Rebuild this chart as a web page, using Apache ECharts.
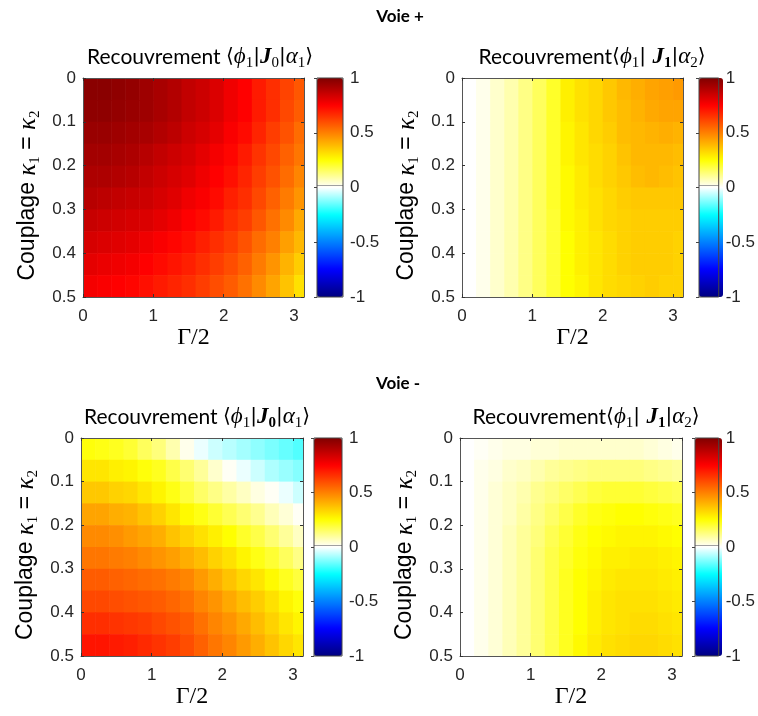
<!DOCTYPE html>
<html><head><meta charset="utf-8">
<script src="https://cdn.jsdelivr.net/npm/echarts@6/dist/echarts.min.js"></script>
<style>html,body{margin:0;padding:0;background:#fff}#c{width:758px;height:716px}</style>
</head><body><div id="c"></div>
<script>
// ---- data ----
const gammaCenters = [0.1,0.3,0.5,0.7,0.9,1.1,1.3,1.5,1.7,1.9,2.1,2.3,2.5,2.7,2.9,3.1];
const kappaCenters = [0.025,0.075,0.125,0.175,0.225,0.275,0.325,0.375,0.425,0.475];

const voiePlusJ0 = [
 [0.98,0.98,0.97,0.96,0.94,0.92,0.90,0.87,0.85,0.82,0.78,0.75,0.70,0.66,0.62,0.58],
 [0.97,0.97,0.96,0.95,0.94,0.92,0.90,0.87,0.85,0.82,0.78,0.75,0.70,0.66,0.61,0.57],
 [0.95,0.95,0.94,0.93,0.92,0.90,0.88,0.85,0.83,0.80,0.76,0.73,0.68,0.63,0.59,0.54],
 [0.93,0.93,0.92,0.91,0.89,0.87,0.85,0.83,0.80,0.77,0.74,0.70,0.65,0.61,0.56,0.52],
 [0.91,0.91,0.90,0.89,0.87,0.85,0.83,0.81,0.78,0.75,0.72,0.68,0.63,0.59,0.54,0.49],
 [0.89,0.88,0.87,0.86,0.85,0.83,0.81,0.78,0.76,0.73,0.69,0.66,0.61,0.56,0.51,0.46],
 [0.86,0.85,0.84,0.83,0.82,0.80,0.78,0.75,0.73,0.70,0.66,0.63,0.58,0.53,0.48,0.42],
 [0.83,0.82,0.81,0.80,0.78,0.76,0.74,0.72,0.69,0.66,0.63,0.59,0.54,0.50,0.44,0.39],
 [0.80,0.79,0.78,0.77,0.75,0.73,0.71,0.69,0.66,0.63,0.60,0.56,0.51,0.46,0.40,0.35],
 [0.77,0.76,0.75,0.74,0.72,0.70,0.68,0.66,0.63,0.60,0.57,0.53,0.48,0.43,0.37,0.31]
];
const voiePlusJ1 = [
 [0.00,0.02,0.05,0.08,0.12,0.16,0.21,0.28,0.31,0.33,0.36,0.39,0.41,0.43,0.44,0.45],
 [0.00,0.02,0.05,0.08,0.12,0.16,0.21,0.28,0.31,0.33,0.36,0.38,0.40,0.42,0.43,0.43],
 [0.00,0.02,0.05,0.08,0.12,0.16,0.21,0.27,0.30,0.33,0.35,0.38,0.39,0.40,0.41,0.40],
 [0.00,0.02,0.05,0.08,0.12,0.16,0.21,0.27,0.30,0.32,0.34,0.37,0.39,0.39,0.39,0.38],
 [0.00,0.02,0.05,0.08,0.12,0.16,0.21,0.26,0.29,0.32,0.34,0.36,0.38,0.39,0.38,0.37],
 [0.00,0.02,0.05,0.08,0.12,0.16,0.21,0.26,0.29,0.31,0.33,0.35,0.36,0.36,0.36,0.36],
 [0.00,0.02,0.05,0.08,0.12,0.16,0.20,0.26,0.28,0.31,0.33,0.34,0.35,0.35,0.35,0.35],
 [0.00,0.02,0.05,0.08,0.12,0.16,0.20,0.25,0.28,0.30,0.32,0.34,0.35,0.35,0.35,0.34],
 [0.00,0.02,0.05,0.08,0.12,0.16,0.20,0.25,0.28,0.30,0.32,0.34,0.35,0.35,0.35,0.34],
 [0.00,0.02,0.05,0.08,0.12,0.16,0.20,0.25,0.27,0.30,0.32,0.33,0.34,0.35,0.34,0.34]
];
const voieMinusJ0 = [
 [0.24,0.23,0.22,0.20,0.16,0.13,0.08,0.02,-0.02,-0.05,-0.07,-0.09,-0.11,-0.13,-0.15,-0.17],
 [0.30,0.30,0.28,0.27,0.24,0.22,0.18,0.14,0.10,0.05,0.01,-0.02,-0.05,-0.08,-0.10,-0.12],
 [0.36,0.36,0.34,0.33,0.30,0.27,0.23,0.19,0.15,0.12,0.09,0.06,0.03,0.01,-0.02,-0.05],
 [0.43,0.43,0.41,0.40,0.37,0.34,0.30,0.26,0.23,0.20,0.17,0.14,0.11,0.07,0.04,0.01],
 [0.48,0.48,0.47,0.45,0.43,0.41,0.37,0.34,0.31,0.28,0.25,0.21,0.18,0.14,0.10,0.06],
 [0.52,0.52,0.51,0.50,0.48,0.46,0.44,0.41,0.38,0.34,0.31,0.27,0.23,0.20,0.16,0.12],
 [0.57,0.57,0.56,0.55,0.54,0.53,0.51,0.49,0.45,0.41,0.37,0.33,0.30,0.26,0.22,0.19],
 [0.61,0.61,0.60,0.59,0.58,0.57,0.55,0.53,0.49,0.46,0.42,0.38,0.35,0.31,0.27,0.24],
 [0.66,0.66,0.65,0.64,0.63,0.61,0.59,0.57,0.53,0.49,0.46,0.42,0.38,0.34,0.30,0.27],
 [0.71,0.71,0.70,0.69,0.67,0.65,0.63,0.60,0.56,0.52,0.49,0.45,0.41,0.37,0.33,0.30]
];
const voieMinusJ1 = [
 [0.00,0.01,0.02,0.03,0.03,0.04,0.04,0.05,0.05,0.05,0.05,0.05,0.05,0.04,0.03,0.02],
 [0.00,0.02,0.03,0.05,0.06,0.08,0.10,0.11,0.12,0.13,0.13,0.13,0.13,0.12,0.11,0.10],
 [0.00,0.02,0.04,0.06,0.08,0.11,0.13,0.15,0.17,0.19,0.20,0.20,0.20,0.19,0.18,0.17],
 [0.00,0.02,0.04,0.06,0.09,0.12,0.15,0.18,0.21,0.23,0.24,0.25,0.25,0.24,0.23,0.22],
 [0.00,0.02,0.04,0.07,0.10,0.13,0.17,0.20,0.23,0.25,0.26,0.27,0.27,0.27,0.26,0.25],
 [0.00,0.02,0.04,0.07,0.10,0.14,0.18,0.21,0.24,0.26,0.28,0.28,0.29,0.29,0.28,0.27],
 [0.00,0.02,0.04,0.07,0.10,0.14,0.18,0.22,0.25,0.27,0.29,0.30,0.30,0.30,0.29,0.28],
 [0.00,0.02,0.04,0.07,0.10,0.14,0.18,0.22,0.25,0.28,0.30,0.31,0.31,0.31,0.30,0.29],
 [0.00,0.02,0.04,0.07,0.10,0.14,0.18,0.22,0.25,0.28,0.30,0.31,0.32,0.32,0.31,0.30],
 [0.00,0.02,0.04,0.07,0.10,0.14,0.18,0.22,0.26,0.29,0.31,0.32,0.33,0.33,0.32,0.31]
];

const sectionTitles = ['Voie +', 'Voie -'];
const panelTitles = [
 '{n|Recouvrement }{m|⟨}{i|ϕ}{s|1}{m||}{b|J}{s|0}{m||}{i|α}{s|1}{m|⟩}',
 '{n|Recouvrement}{m|⟨}{i|ϕ}{s|1}{m|| }{b|J}{sb|1}{m||}{i|α}{s|2}{m|⟩}',
 '{n|Recouvrement }{m|⟨}{i|ϕ}{s|1}{m||}{b|J}{sb|0}{m||}{i|α}{s|1}{m|⟩}',
 '{n|Recouvrement}{m|⟨}{i|ϕ}{s|1}{m|| }{b|J}{sb|1}{m||}{i|α}{s|2}{m|⟩}'
];
const xAxisName = 'Γ/2';
const yAxisName = '{n|Couplage }{k|κ}{s|1}{n| = }{k|κ}{s|2}';
const colorbarMin = -1, colorbarMax = 1, colorbarStep = 0.5;
const colormap = ['#000080','#0000bf','#0000ff','#0040ff','#0080ff','#00c0ff','#00ffff','#80ffff','#ffffff',
                  '#ffff80','#ffff00','#ffc000','#ff8000','#ff4000','#ff0000','#bf0000','#800000'];
const panelData = [voiePlusJ0, voiePlusJ1, voieMinusJ0, voieMinusJ1];

// ---- layout ----
const layout = [
 {grid:{left:83,top:78,width:221,height:219}, cb:{left:317,top:78,width:26,height:219}, title:[200,57]},
 {grid:{left:462,top:78,width:221,height:219}, cb:{left:699,top:78,width:24,height:219}, title:[592,57]},
 {grid:{left:81,top:438,width:222,height:218}, cb:{left:314,top:438,width:28,height:218}, title:[197,417]},
 {grid:{left:460,top:438,width:222,height:218}, cb:{left:695,top:438,width:27,height:218}, title:[586,417]}
];
const sectionPos = [[400,17],[398,384]];

const tickFont = {fontFamily:'Liberation Sans', fontSize:17, color:'#262626'};
const titleRich = {
 n:{fontFamily:'Lato', fontSize:21, lineHeight:28, fill:'#000', color:'#000'},
 m:{fontFamily:'DejaVu Sans', fontSize:20, lineHeight:28, fill:'#000', color:'#000'},
 i:{fontFamily:'Liberation Serif', fontStyle:'italic', fontSize:23, lineHeight:28, fill:'#000', color:'#000'},
 b:{fontFamily:'Liberation Serif', fontStyle:'italic', fontWeight:'bold', fontSize:23, lineHeight:28, fill:'#000', color:'#000'},
 s:{fontFamily:'Liberation Serif', fontSize:15, lineHeight:12, verticalAlign:'bottom', fill:'#000', color:'#000'},
 sb:{fontFamily:'Liberation Serif', fontSize:15, lineHeight:12, fontWeight:'bold', verticalAlign:'bottom', fill:'#000', color:'#000'}
};
const yNameRich = {
 n:{fontFamily:'Liberation Sans', fontSize:23, lineHeight:30, color:'#000'},
 k:{fontFamily:'Liberation Serif', fontStyle:'italic', fontSize:25, lineHeight:30, color:'#000'},
 s:{fontFamily:'Liberation Serif', fontSize:15, lineHeight:12, verticalAlign:'bottom', color:'#000'}
};

function renderCell(params, api) {
  const x = api.value(0), y = api.value(1);
  const hx = (gammaCenters[1] - gammaCenters[0]) / 2;
  const hy = (kappaCenters[1] - kappaCenters[0]) / 2;
  const p0 = api.coord([x - hx, y - hy]);
  const p1 = api.coord([x + hx, y + hy]);
  const cs = params.coordSys;
  const rect = echarts.graphic.clipRectByRect({
    x: Math.min(p0[0], p1[0]), y: Math.min(p0[1], p1[1]),
    width: Math.abs(p1[0] - p0[0]) + 0.6, height: Math.abs(p1[1] - p0[1]) + 0.6
  }, {x: cs.x, y: cs.y, width: cs.width, height: cs.height});
  return rect && {type:'rect', shape: rect, style:{fill: api.visual('color')}};
}

const grids = [], xAxes = [], yAxes = [], series = [], visualMaps = [], graphics = [];
layout.forEach((L, g) => {
  grids.push(Object.assign({show:false}, L.grid));
  const axLine = {show:true, onZero:false, lineStyle:{color:'#555', width:1}};
  const axTick = {show:true, inside:true, length:3, lineStyle:{color:'#333'}};
  xAxes.push({gridIndex:g, type:'value', min:0, max:Math.PI, interval:1, position:'bottom', z:5,
    axisLine:axLine, axisTick:axTick, splitLine:{show:false},
    axisLabel:Object.assign({margin:11, showMaxLabel:false}, tickFont),
    name:xAxisName, nameLocation:'middle', nameGap:29,
    nameTextStyle:{fontFamily:'Liberation Serif', fontSize:24, color:'#000'}});
  xAxes.push({gridIndex:g, type:'value', min:0, max:Math.PI, interval:1, position:'top', z:5,
    axisLine:axLine, axisTick:axTick, splitLine:{show:false}, axisLabel:{show:false}});
  yAxes.push({gridIndex:g, type:'value', min:0, max:0.5, interval:0.1, inverse:true, position:'left', z:5,
    axisLine:axLine, axisTick:axTick, splitLine:{show:false},
    axisLabel:Object.assign({margin:7}, tickFont),
    name:yAxisName, nameLocation:'middle', nameGap:40, nameRotate:90,
    nameTextStyle:{rich:yNameRich, padding:[0,16,0,0]}});
  yAxes.push({gridIndex:g, type:'value', min:0, max:0.5, interval:0.1, inverse:true, position:'right', z:5,
    axisLine:axLine, axisTick:axTick, splitLine:{show:false}, axisLabel:{show:false}});
  const data = [];
  panelData[g].forEach((row, r) => row.forEach((v, c) => data.push([gammaCenters[c], kappaCenters[r], v])));
  series.push({type:'custom', xAxisIndex:2*g, yAxisIndex:2*g, renderItem:renderCell, data:data,
    encode:{x:0, y:1}, silent:true, z:2});
  graphics.push({type:'text', x:L.title[0], y:L.title[1],
    style:{text:panelTitles[g], rich:titleRich, align:'center', verticalAlign:'middle',
           textAlign:'center', textVerticalAlign:'middle', fill:'#000'}});
});
layout.forEach((L, k) => {
  const gi = 4 + k;
  grids.push(Object.assign({show:true, borderColor:'#444', borderWidth:1, backgroundColor:'transparent', z:10}, L.cb));
  xAxes.push({gridIndex:gi, type:'value', min:0, max:1, show:false});
  yAxes.push({gridIndex:gi, type:'value', min:colorbarMin, max:colorbarMax, interval:colorbarStep, position:'right', z:10,
    axisLine:{show:false}, splitLine:{show:false},
    axisTick:{show:true, inside:true, length:3, lineStyle:{color:'#444'}},
    axisLabel:Object.assign({margin:7}, tickFont)});
  series.push({type:'line', xAxisIndex:8 + k, yAxisIndex:8 + k, data:[], z:9, silent:true,
    markLine:{silent:true, symbol:'none', label:{show:false}, animation:false,
      lineStyle:{color:'#a0a0a0', width:1, type:'solid'}, data:[{yAxis:0.02}]}});
  visualMaps.push({type:'continuous', min:colorbarMin, max:colorbarMax, dimension:2, seriesIndex:k,
    calculable:false, hoverLink:false, padding:0, z:1, text:null,
    left:L.cb.left, top:L.cb.top, itemWidth:L.cb.width, itemHeight:L.cb.height,
    inRange:{color:colormap}});
});
sectionTitles.forEach((t, i) => graphics.push({type:'text', x:sectionPos[i][0], y:sectionPos[i][1],
  style:{text:t, font:'bold 17px Lato', fill:'#000', align:'center', verticalAlign:'middle',
         textAlign:'center', textVerticalAlign:'middle'}}));

const chart = echarts.init(document.getElementById('c'), null, {renderer:'canvas'});
chart.setOption({animation:false, grid:grids, xAxis:xAxes, yAxis:yAxes, series:series,
  visualMap:visualMaps, graphic:graphics});
</script></body></html>
